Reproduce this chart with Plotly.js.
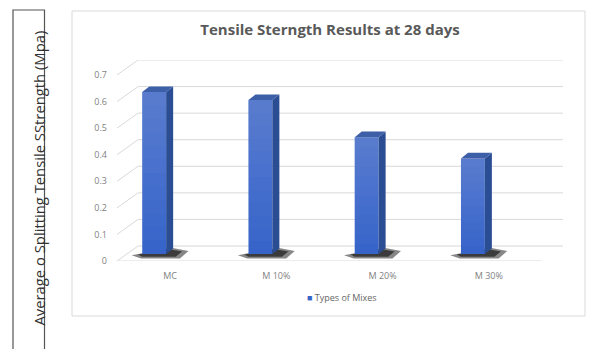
<!DOCTYPE html>
<html>
<head>
<meta charset="utf-8">
<script src="https://cdn.plot.ly/plotly-3.0.1.min.js"></script>
<style>
  html, body { margin: 0; padding: 0; background: #ffffff; }
  #chart { width: 592px; height: 349px; }
</style>
</head>
<body>
<div id="chart"></div>
<script>
// Splitting tensile strength at 28 days, one value per mix
const categories = ['MC', 'M 10%', 'M 20%', 'M 30%'];
const strength = [0.61, 0.58, 0.44, 0.36];
const tickValues = [0, 0.1, 0.2, 0.3, 0.4, 0.5, 0.6, 0.7];
const tickLabels = ['0', '0.1', '0.2', '0.3', '0.4', '0.5', '0.6', '0.7'];
const seriesName = 'Types of Mixes';

const W = 592, H = 349;
const px = v => v / W;
const py = v => 1 - v / H;

// pseudo-3D depth offsets, in axis units
const wallDx = 0.198;   // back wall shift to the right
const wallDy = 0.0565;  // back wall shift upward
const barLift = 0.026;  // bars stand halfway into the floor
const barShift = -0.15; // bar centre relative to its category
const barWidth = 0.225;
const sideDx = 0.066, sideDy = 0.021;
const shadeSteps = 12;  // bands of the vertical highlight on the front face

const xMin = -0.5, xMax = 3.698;
const gridColor = '#d9d9d9';
const barColor = '#3764c8';

const shapes = [];

// back wall gridlines plus the diagonals on the left side wall
tickValues.forEach(v => {
  shapes.push({type: 'line', xref: 'x', yref: 'y', layer: 'below',
    x0: xMin + wallDx, x1: xMax, y0: v + wallDy, y1: v + wallDy,
    line: {color: gridColor, width: 1}});
  shapes.push({type: 'line', xref: 'x', yref: 'y', layer: 'below',
    x0: xMin, x1: xMin + wallDx, y0: v, y1: v + wallDy,
    line: {color: gridColor, width: 1}});
});
// front edge of the floor and the category dividers
shapes.push({type: 'line', xref: 'x', yref: 'y', layer: 'below',
  x0: xMin, x1: categories.length - 0.5, y0: 0, y1: 0,
  line: {color: gridColor, width: 1}});
for (let i = 1; i < categories.length; i++) {
  shapes.push({type: 'line', xref: 'x', yref: 'y', layer: 'below',
    x0: i - 0.5, x1: i - 0.5, y0: 0, y1: -0.012,
    line: {color: gridColor, width: 1}});
}

// shadow, side face, top face and a soft highlight on each column
strength.forEach((v, i) => {
  const xl = i + barShift - barWidth / 2;
  const xr = i + barShift + barWidth / 2;
  const b = barLift, t = barLift + v;
  shapes.push({type: 'path', xref: 'x', yref: 'y', layer: 'between',
    path: `M ${xl - 0.1},${b - 0.004} L ${xl - 0.01},${b - 0.017} L ${xr + 0.13},${b - 0.017} L ${xr + 0.21},${b + 0.012} L ${xr + 0.05},${b + 0.024} Z`,
    fillcolor: 'rgba(35,35,35,0.55)', line: {width: 0}});
  shapes.push({type: 'path', xref: 'x', yref: 'y', layer: 'between',
    path: `M ${xl - 0.04},${b - 0.002} L ${xl},${b - 0.01} L ${xr + 0.09},${b - 0.01} L ${xr + 0.15},${b + 0.01} L ${xr + 0.03},${b + 0.018} Z`,
    fillcolor: 'rgba(10,10,10,0.6)', line: {width: 0}});
  shapes.push({type: 'path', xref: 'x', yref: 'y', layer: 'above',
    path: `M ${xr},${b} L ${xr},${t} L ${xr + sideDx},${t + sideDy} L ${xr + sideDx},${b + sideDy} Z`,
    fillcolor: '#2b4d93', line: {width: 0}});
  shapes.push({type: 'path', xref: 'x', yref: 'y', layer: 'above',
    path: `M ${xl},${t} L ${xl + sideDx},${t + sideDy} L ${xr + sideDx},${t + sideDy} L ${xr},${t} Z`,
    fillcolor: '#3d5fa8', line: {width: 0}});
  for (let k = 1; k < shadeSteps; k++) {
    shapes.push({type: 'rect', xref: 'x', yref: 'y', layer: 'above',
      x0: xl, x1: xr, y0: b + v * k / shadeSteps, y1: t,
      fillcolor: 'rgba(255,255,255,0.018)', line: {width: 0}});
  }
});

// outer chart frame
shapes.push({type: 'rect', xref: 'paper', yref: 'paper',
  x0: px(72), x1: px(585), y0: py(316), y1: py(11),
  line: {color: '#d9d9d9', width: 1}});
// boxed axis caption on the left
shapes.push({type: 'rect', xref: 'paper', yref: 'paper',
  x0: px(13), x1: px(44.5), y0: py(360), y1: py(10),
  line: {color: '#555555', width: 1.2}});

const trace = {
  type: 'bar',
  name: seriesName,
  x: categories.map((c, i) => i + barShift),
  y: strength,
  base: barLift,
  width: barWidth,
  marker: {color: barColor, line: {width: 0}},
  hoverinfo: 'skip',
  showlegend: false
};

const layout = {
  width: W, height: H,
  margin: {l: 0, r: 0, t: 0, b: 0},
  paper_bgcolor: '#ffffff',
  plot_bgcolor: 'rgba(0,0,0,0)',
  font: {family: 'Open Sans, sans-serif', color: '#7f7f7f'},
  title: {
    text: 'Tensile Sterngth Results at 28 days',
    font: {family: 'Open Sans, sans-serif', size: 15, color: '#595959', weight: 'bold'},
    x: px(330), y: py(30), xref: 'paper', yref: 'paper',
    xanchor: 'center', yanchor: 'middle'
  },
  xaxis: {
    domain: [px(117), px(563)],
    range: [xMin, xMax],
    tickvals: categories.map((c, i) => i),
    ticktext: categories,
    ticks: '',
    ticklabelstandoff: 8,
    tickfont: {size: 9, color: '#7f7f7f'},
    showgrid: false, zeroline: false, showline: false,
    fixedrange: true
  },
  yaxis: {
    domain: [py(261), py(60)],
    range: [0, 0.7565],
    tickvals: tickValues,
    ticktext: tickLabels,
    ticks: '',
    ticklabelstandoff: 9,
    tickfont: {size: 9, color: '#7f7f7f'},
    showgrid: false, zeroline: false, showline: false,
    fixedrange: true
  },
  showlegend: false,
  shapes: shapes,
  annotations: [
    {
      // series key under the plot
      text: `<span style="color:${barColor}">■</span> ${seriesName}`,
      xref: 'paper', yref: 'paper',
      x: px(342), y: py(297), xanchor: 'center', yanchor: 'middle',
      showarrow: false,
      font: {family: 'Open Sans, sans-serif', size: 9, color: '#666666'}
    },
    {
      text: 'Average o Splitting Tensile SStrength (Mpa)',
      xref: 'paper', yref: 'paper',
      x: px(26.5), y: py(178),
      textangle: -90,
      showarrow: false,
      font: {family: 'Open Sans, sans-serif', size: 14.8, color: '#333333'}
    }
  ]
};

Plotly.newPlot('chart', [trace], layout, {displayModeBar: false, staticPlot: true});
</script>
</body>
</html>
